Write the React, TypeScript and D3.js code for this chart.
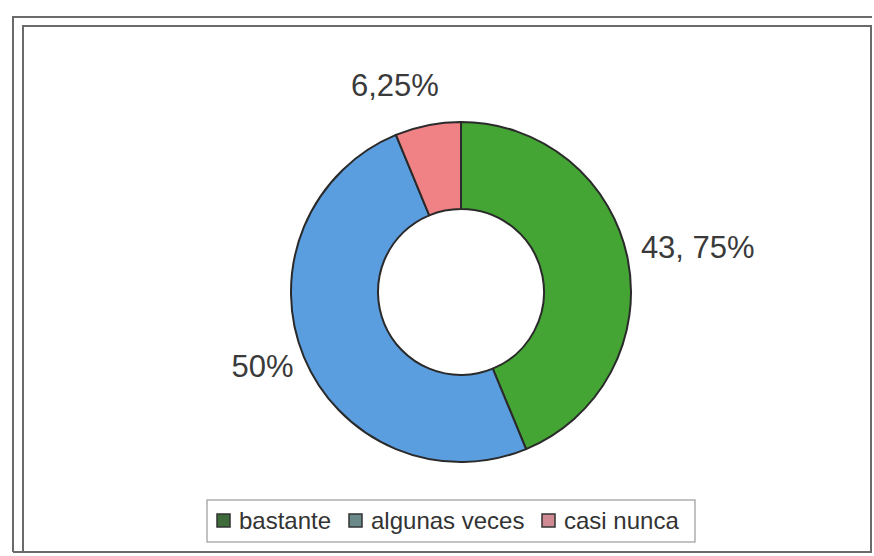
import React, { useEffect } from "react";
import * as d3 from "d3";

const categories = ["bastante", "algunas veces", "casi nunca"];
const values = [43.75, 50, 6.25];
const labels = ["43, 75%", "50%", "6,25%"];
const colors = ["#44a534", "#5b9ee0", "#f08184"];
const legendColors = ["#3f6a3a", "#6a8a8a", "#d08a94"];

const W = 874;
const H = 556;
const CX = 461;
const CY = 292;
const R_OUT = 170;
const R_IN = 83;

export default function App() {
  useEffect(() => {
    document.body.style.margin = "0";
  }, []);

  const pie = d3.pie<number>().sort(null).value((d) => d)(values);
  const arc = d3.arc<d3.PieArcDatum<number>>().innerRadius(R_IN).outerRadius(R_OUT);

  // label placement: radius & angular nudge (degrees) per slice
  const labelR = [241, 212, 217];
  const labelAngleShift = [0.5, 2, -6.5];

  const font = "'Liberation Sans', Arial, sans-serif";

  // legend layout
  const legendX = 207;
  const legendY = 500;
  const legendW = 488;
  const legendH = 42;
  const itemX = [217, 349, 542];

  return (
    <svg width={W} height={H} style={{ display: "block", background: "#fff" }}>
      <rect x={0} y={0} width={W} height={H} fill="#fff" />
      {/* frames */}
      <path d={`M13,552 L13,17 L872,17`} fill="none" stroke="#6a6a6a" strokeWidth={2} />
      <path d={`M23,552 L23,26 L871,26 L871,552 L13,552`} fill="none" stroke="#6a6a6a" strokeWidth={2} />

      <g transform={`translate(${CX},${CY})`}>
        {pie.map((p, i) => (
          <path key={i} d={arc(p) || ""} fill={colors[i]} stroke="#2a2a2a" strokeWidth={2} />
        ))}
        {pie.map((p, i) => {
          const mid = (p.startAngle + p.endAngle) / 2 + (labelAngleShift[i] * Math.PI) / 180;
          const x = Math.sin(mid) * labelR[i];
          const y = -Math.cos(mid) * labelR[i];
          return (
            <text
              key={"l" + i}
              x={x}
              y={y}
              textAnchor="middle"
              dominantBaseline="central"
              fontFamily={font}
              fontSize={31}
              fill="#3a3a3a"
            >
              {labels[i]}
            </text>
          );
        })}
      </g>

      {/* legend */}
      <rect x={legendX} y={legendY} width={legendW} height={legendH} fill="#fff" stroke="#9a9a9a" strokeWidth={1.2} />
      {categories.map((c, i) => (
        <g key={c}>
          <rect x={itemX[i]} y={514} width={13} height={13} fill={legendColors[i]} stroke="#333" strokeWidth={1.5} />
          <text x={itemX[i] + 22} y={529} fontFamily={font} fontSize={24} fill="#333">
            {c}
          </text>
        </g>
      ))}
    </svg>
  );
}
